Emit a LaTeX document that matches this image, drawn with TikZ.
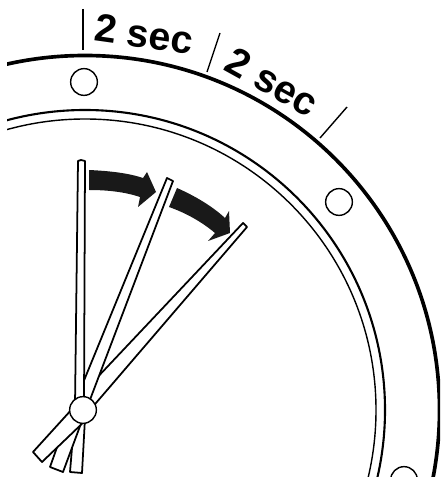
\documentclass[tikz,border=0pt]{standalone}
\usepackage{fontspec}
\setmainfont{Liberation Sans}
\usepackage{tikz}
\usetikzlibrary{positioning}

\begin{document}
\begin{tikzpicture}[
    x=0.025cm, y=-0.025cm,
    rim/.style={line width=2.6pt},
    bezel/.style={line width=1.5pt},
    bezelthin/.style={line width=1pt},
    hole/.style={draw, circle, line width=1pt, minimum size=19pt, inner sep=0pt, fill=white},
    tickmark/.style={line width=1pt},
    hand/.style={draw, line width=1.25pt, fill=white, line join=round},
    sweep/.style={fill=black!90},
    seclabel/.style={font=\bfseries\fontsize{28}{28}\selectfont, inner sep=0pt}
  ]

  \useasboundingbox (0,0) rectangle (440,477);
  \clip (7,0) rectangle (440,477);

  % Outer rim and bezel
  \coordinate (centre) at (85,410);
  \draw[rim] (centre) circle (354.5);
  \draw[bezel] (centre) circle (300);
  \draw[bezelthin] (centre) circle (291);

  % Holes in the rim
  \foreach \name/\pos in {holea/{84,82}, holeb/{339,202}, holec/{404,480}}
    \node[hole] (\name) at (\pos) {};

  % Time marks
  \foreach \a/\b in {{83,9}/{83,50}, {220,33}/{207,72}, {347,107}/{320,138}}
    \draw[tickmark] (\a) -- (\b);

  % Labels
  \node[seclabel, rotate=-8] (seca) at (144,34) {2 sec};
  \node[seclabel, rotate=-29] (secb) at (272,82) {2 sec};

  % Tails of the hand
  \draw[hand] (76,400) -- (70,472) -- (82,473) -- (86,400) -- cycle;
  \draw[hand] (72,405) -- (50,467) -- (63,472) -- (86,410) -- cycle;
  \draw[hand] (73,408) -- (33,452) -- (42,462) -- (88,418) -- cycle;

  % Hand positions
  \draw[hand] (243,223) -- (247,227) -- (90,410) -- (76,400) -- cycle;
  \draw[hand] (167,178) -- (173,181) -- (88,405) -- (76,400) -- cycle;
  \draw[hand] (78,161) -- (81,160) -- (85,161) -- (84,405) -- (75,405) -- cycle;

  % Pivot
  \node[hole] (pivot) at (83,410) {};

  % Sweep arrows
  \fill[sweep] (89,170) .. controls (110,171) and (128,173) .. (143,178) -- (147,172)
    -- (156,192) -- (138,207) -- (140,197) .. controls (125,192) and (108,190) .. (89,190) -- cycle;
  \fill[sweep] (177,188) .. controls (195,196) and (212,206) .. (225,218) -- (229,211)
    -- (230,233) -- (208,241) -- (215,233) .. controls (202,222) and (186,213) .. (169,207) -- cycle;

\end{tikzpicture}
\end{document}
